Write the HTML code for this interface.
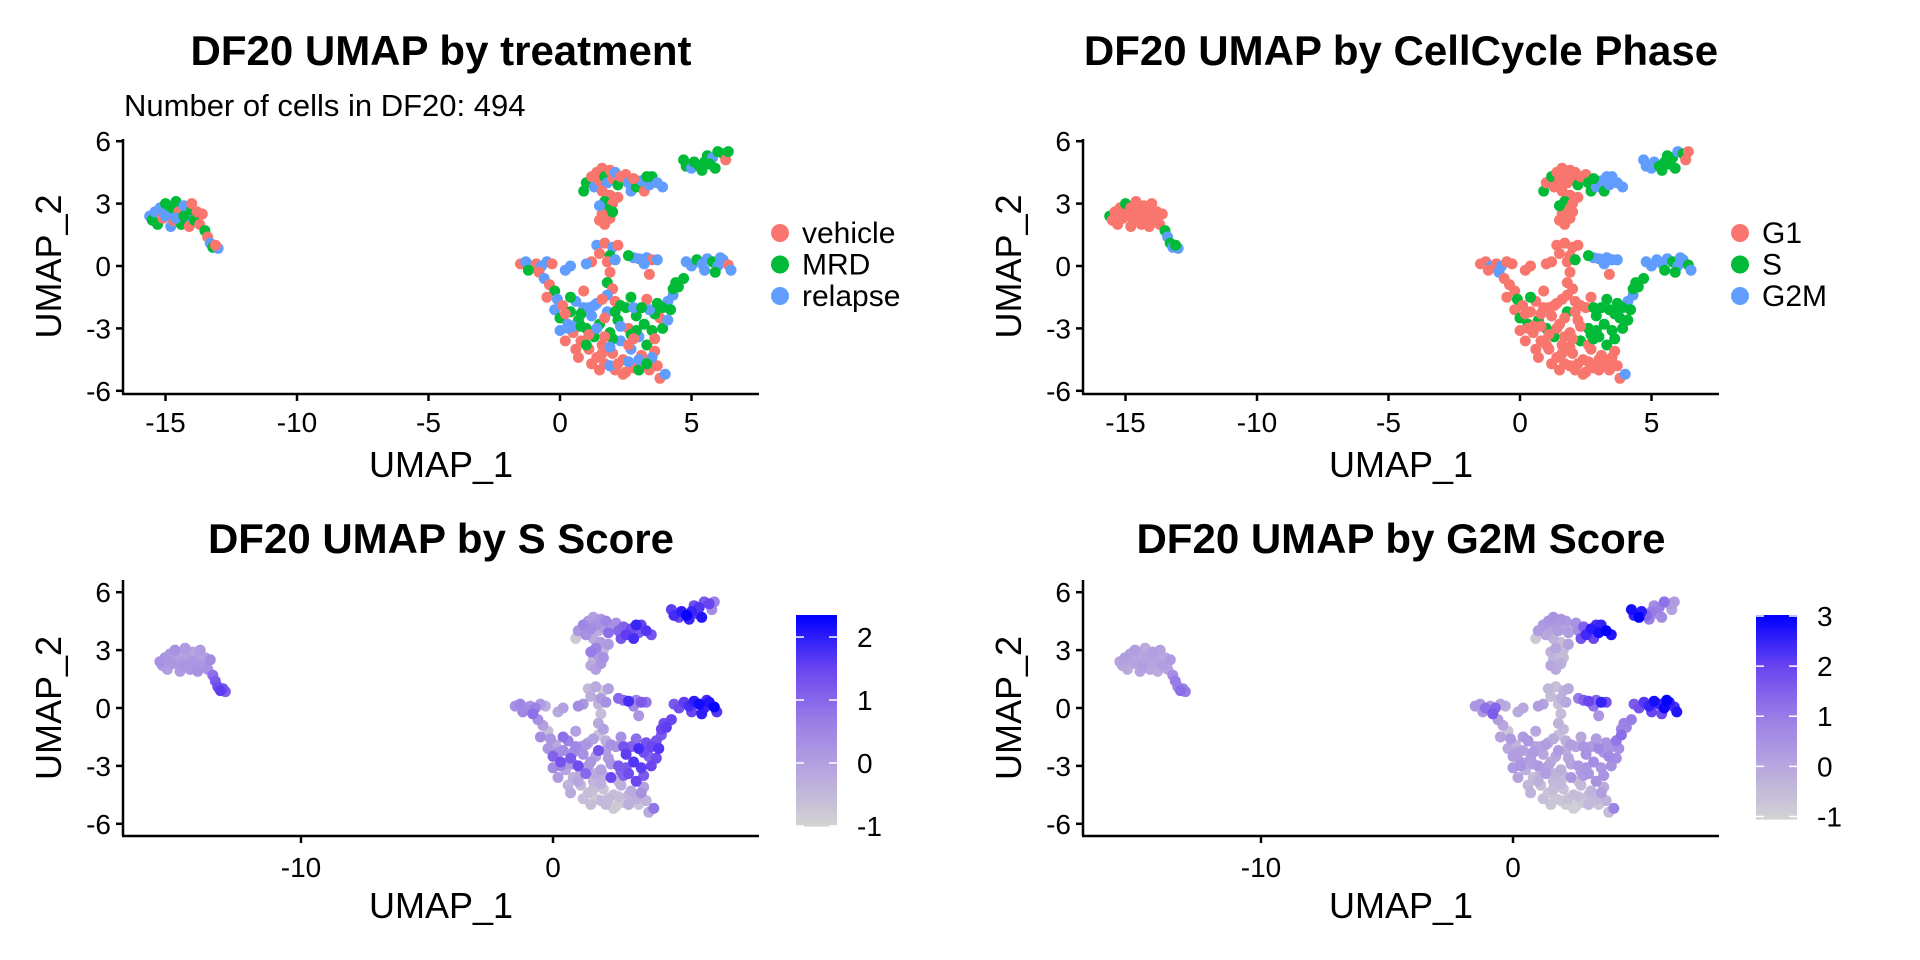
<!DOCTYPE html>
<html><head><meta charset="utf-8"><style>
html,body{margin:0;padding:0;background:#fff;}
svg{display:block;font-family:"Liberation Sans",Arial,sans-serif;}
</style></head><body>
<svg id="fig" xmlns="http://www.w3.org/2000/svg" width="1920" height="960" viewBox="0 0 1920 960"></svg>
<script>
// ---- data: UMAP coordinates per cell (clusters: left, upper head, upper arm, top-right, left arm, stem, bar, right arm, diagonal, bottom, bottom-extra) ----
const umap1 = [
-15.6,-15.5,-15.4,-15.3,-15.2,-15.1,-15.0,-14.9,-14.8,-14.8,-14.7,-14.6,-14.5,-14.4,-14.3,-14.2,-14.1,-14.0,-14.0,-13.9,-13.8,-13.7,-13.6,-13.5,-13.4,-13.3,-13.2,-13.0,-13.1,-14.6,-15.0,-14.3,
0.9,1.0,1.2,1.3,1.4,1.5,1.6,1.7,1.8,1.9,2.0,2.1,2.2,2.3,2.5,2.6,1.6,1.9,1.7,2.0,1.8,1.6,1.9,1.7,1.5,2.0,1.5,2.2,
2.7,2.9,3.1,3.2,3.4,3.5,3.7,3.9,3.3,2.8,
4.7,4.8,5.0,5.1,5.3,5.5,5.6,5.8,5.9,6.0,6.2,6.3,6.4,5.4,5.7,
-1.5,-1.3,-1.1,-0.9,-0.7,-0.5,-0.3,-1.2,-0.8,-0.6,-0.4,-0.2,-0.5,-0.1,0.2,0.4,
1.4,1.7,2.0,2.2,1.5,1.9,1.8,2.1,1.2,1.0,1.9,1.8,2.0,1.8,2.1,
2.8,3.0,3.3,3.5,3.7,3.2,3.4,2.6,
4.8,5.0,5.2,5.4,5.6,5.8,6.0,6.2,6.4,6.5,5.5,5.9,6.1,
4.7,4.5,4.3,4.4,4.1,4.2,3.9,3.8,3.6,
-0.2,0.0,0.1,0.3,0.4,0.5,0.6,0.7,0.8,0.9,1.0,1.1,1.2,1.3,1.4,1.5,1.6,1.7,1.8,1.9,2.0,2.1,2.2,2.3,2.4,2.5,2.6,2.7,2.8,2.9,3.0,3.1,3.2,3.3,3.4,3.5,3.6,3.7,3.8,4.0,3.9,4.1,3.3,2.7,1.4,0.6,1.2,2.5,3.0,1.9,0.2,3.7,
0.2,0.5,0.8,1.1,1.4,1.7,2.0,2.3,2.6,2.9,3.2,3.5,0.4,0.9,1.3,1.6,2.1,2.4,2.8,3.1,3.4,0.0,0.7,1.0,1.5,1.9,2.2,2.7,3.0,3.6,1.1,1.6,2.3,2.8,0.3,0.8,1.7,2.6,3.3,4.3
];
const umap2 = [
2.4,2.2,2.6,2.0,2.8,2.3,3.0,2.5,1.9,2.8,2.2,3.1,2.6,2.0,2.9,2.4,1.9,2.7,3.0,2.2,2.6,2.0,2.5,1.7,1.4,1.1,0.9,0.85,1.0,2.3,2.4,2.4,
3.6,4.0,4.3,3.8,4.5,4.1,4.7,4.3,4.0,4.6,4.2,4.5,3.9,4.3,4.4,4.0,3.6,3.4,3.1,3.0,2.7,2.5,2.3,2.0,2.2,2.6,2.9,3.3,
3.6,3.8,4.1,3.6,3.9,4.3,4.0,3.8,4.3,4.2,
5.1,4.8,4.7,5.0,4.8,5.0,5.3,5.2,4.7,5.5,5.4,5.1,5.5,4.6,4.9,
0.1,0.2,0.0,0.1,0.0,0.2,0.1,-0.2,-0.3,-0.6,-0.9,-1.2,-1.5,-1.6,-0.2,0.0,
1.0,1.1,0.9,1.0,0.6,0.5,0.2,0.3,0.2,0.1,-0.3,-0.8,-1.1,-1.4,-1.7,
0.4,0.35,0.4,0.3,0.3,0.1,-0.4,0.5,
0.2,0.0,0.3,0.1,0.35,0.2,0.0,0.3,0.05,-0.2,-0.2,-0.3,0.4,
-0.6,-1.0,-1.4,-0.8,-1.7,-2.1,-2.0,-2.5,-2.3,
-2.1,-2.5,-1.9,-2.8,-2.2,-3.2,-1.7,-2.6,-3.6,-2.0,-3.0,-4.0,-2.4,-3.4,-4.4,-2.8,-3.8,-4.7,-2.2,-3.2,-4.2,-5.0,-2.6,-3.6,-4.5,-2.0,-3.0,-4.0,-4.9,-2.4,-3.4,-4.3,-2.8,-3.8,-2.1,-3.1,-4.1,-4.8,-5.4,-5.2,-3.0,-2.6,-1.6,-1.5,-1.8,-4.0,-4.7,-5.1,-5.0,-4.8,-3.6,-1.8,
-2.3,-2.9,-2.3,-3.3,-3.0,-2.5,-3.5,-2.9,-3.8,-3.1,-4.6,-4.4,-1.5,-1.2,-1.9,-4.2,-2.2,-5.2,-2.0,-2.0,-5.0,-3.1,-4.4,-3.8,-5.0,-3.9,-4.7,-3.3,-4.5,-3.5,-2.0,-1.6,-1.9,-3.5,-3.0,-2.9,-3.4,-4.6,-4.7,-1.1
];
// treatment: 0 vehicle, 1 MRD, 2 relapse
const treatment = [
2,1,2,1,2,0,1,2,2,1,0,1,0,1,2,2,0,1,0,1,0,0,0,1,0,2,1,2,0,2,2,1,
1,1,0,2,0,0,0,1,2,0,0,2,1,0,0,2,0,0,1,0,1,0,0,0,0,1,2,0,
2,1,2,0,2,1,2,2,1,0,
1,1,2,1,1,1,1,2,1,1,1,0,1,1,1,
0,2,2,0,2,2,0,1,0,2,0,1,0,2,2,2,
2,0,2,0,0,1,0,2,0,2,0,1,0,2,0,
2,2,2,0,2,2,0,1,
2,2,1,2,2,1,2,2,0,2,2,1,2,
1,1,2,1,2,1,1,0,1,
2,1,0,2,1,0,2,1,0,2,1,0,2,1,0,1,0,0,2,1,0,0,1,2,0,1,0,2,0,1,2,0,1,1,2,1,0,0,0,2,1,2,0,1,2,0,0,0,1,2,0,1,
0,2,1,0,2,0,1,2,0,1,0,2,1,0,2,0,1,0,2,1,0,2,0,1,0,2,0,1,2,0,2,0,1,0,2,1,0,2,1,1
];
// phase: 0 G1, 1 S, 2 G2M
const phase = [
1,0,0,0,0,0,1,0,0,0,0,0,0,0,0,0,0,0,0,0,0,0,0,1,2,1,2,2,1,0,0,0,
1,0,1,0,0,0,0,0,0,0,0,0,1,0,0,1,0,0,1,0,0,0,0,0,0,0,1,0,
1,2,2,1,2,2,2,2,2,1,
2,2,2,2,1,1,1,1,1,2,1,0,0,1,1,
0,0,2,0,2,0,0,0,2,0,0,0,0,1,0,0,
0,0,0,0,0,0,0,1,0,0,0,0,0,0,0,
2,2,2,2,2,2,0,1,
2,2,2,2,2,1,2,2,1,2,1,1,2,
1,1,2,1,2,1,1,1,1,
0,1,0,1,0,0,0,1,0,0,1,0,0,1,0,0,0,0,1,0,0,0,0,1,0,0,1,0,0,1,1,0,1,1,1,1,0,0,0,2,1,1,1,0,0,0,0,0,0,0,0,1,
0,0,0,0,0,0,0,0,0,1,0,0,1,0,0,0,0,0,1,1,0,0,0,0,0,0,0,1,0,1,0,0,0,1,0,0,0,0,0,1
];
const sScore = [
0.3,0.1,0.2,0.0,0.1,0.2,0.3,0.0,0.1,-0.1,0.2,0.1,0.0,0.2,-0.1,0.1,0.3,0.0,0.1,0.2,0.0,0.3,0.4,0.9,1.2,1.4,1.6,1.1,1.3,0.1,0.0,0.2,
-0.8,0.2,0.5,0.3,0.1,0.4,0.0,0.3,-0.3,0.2,0.1,0.5,0.9,0.2,0.3,1.0,-0.2,0.0,0.6,-0.4,0.1,-0.5,0.2,0.0,-0.2,0.3,0.7,0.1,
1.3,1.6,1.4,1.8,1.2,1.5,1.7,1.3,1.9,1.1,
1.6,1.8,1.5,2.0,2.3,1.9,1.4,1.7,2.1,1.2,1.5,0.4,0.6,1.9,1.6,
0.3,0.5,0.4,0.2,0.6,0.1,-0.3,0.5,0.9,0.3,0.0,-0.6,0.4,0.2,-0.2,0.0,
-0.5,-0.2,-0.8,0.0,-0.3,0.1,-0.4,0.3,0.2,0.4,-0.6,-0.2,0.0,-0.7,-0.3,
0.9,1.8,0.6,1.2,0.8,0.5,0.2,1.0,
1.2,1.4,1.6,1.8,2.0,2.2,1.9,2.1,2.3,1.7,1.5,2.0,1.8,
1.5,1.6,1.2,1.4,1.3,1.7,1.5,1.1,1.4,
0.2,1.1,-0.2,1.3,0.4,-0.1,0.6,1.2,-0.3,0.5,1.4,-0.5,0.3,1.0,-0.6,0.2,-0.4,-0.8,1.3,0.0,-0.7,-0.5,0.1,1.5,-0.6,0.2,1.2,-0.3,-0.8,1.6,1.4,-0.2,1.7,1.5,1.8,1.6,0.0,-0.4,-0.2,0.8,1.5,1.4,0.9,0.3,-0.2,-0.4,-0.6,-0.9,-0.3,-0.5,0.1,1.3,
0.3,0.1,0.4,-0.2,0.2,0.0,-0.3,0.2,-0.4,1.2,-0.5,0.3,0.9,0.0,0.2,-0.6,0.1,-0.8,1.3,1.1,-0.7,0.4,-0.2,-0.1,-0.6,-0.3,-0.5,1.0,-0.4,1.2,0.2,0.0,0.3,1.1,0.5,0.2,-0.2,-0.6,-0.3,1.5
];
const g2mScore = [
0.1,0.0,0.2,-0.1,0.1,0.0,0.2,-0.2,0.1,0.0,0.2,-0.1,0.1,0.0,0.2,0.1,-0.1,0.0,0.1,0.2,0.0,0.1,0.3,0.6,1.0,0.8,1.3,1.0,0.9,0.0,0.1,0.0,
-0.8,0.2,0.3,0.0,0.4,0.1,0.5,0.3,0.2,0.4,0.0,0.3,0.2,-0.2,0.5,0.6,-0.3,-0.6,0.0,-0.5,-0.7,-0.4,-0.2,-0.1,0.0,-0.5,-0.3,0.1,
1.8,2.4,2.6,2.0,2.8,2.5,3.0,2.7,2.3,1.5,
2.8,2.5,3.0,2.6,1.4,1.0,0.6,0.9,0.7,1.2,0.3,0.1,0.2,1.0,0.5,
0.4,0.3,1.2,0.2,1.4,0.0,-0.2,0.3,1.6,0.2,0.0,-0.7,0.1,0.3,-0.1,0.0,
-0.4,-0.6,-0.3,-0.1,-0.5,-0.2,-0.6,0.0,0.1,0.2,-0.5,-0.3,-0.4,-0.6,-0.2,
1.5,2.0,1.4,2.5,1.8,1.2,0.4,1.0,
1.6,1.8,2.2,2.5,2.8,2.4,2.9,2.6,2.3,2.7,2.0,1.9,3.0,
1.0,0.8,1.3,0.9,1.1,0.6,0.5,0.7,0.4,
0.0,0.2,-0.3,0.3,0.1,-0.2,0.4,0.2,-0.5,0.1,0.3,-0.6,0.0,0.2,-0.7,-0.1,-0.4,-0.8,0.3,-0.2,-0.6,-0.9,0.0,0.4,-0.5,0.1,0.3,-0.4,-0.8,0.5,0.4,-0.3,0.6,0.5,0.7,0.4,-0.1,-0.3,-0.5,0.9,0.5,0.6,0.2,0.0,-0.2,-0.4,-0.6,-0.9,-0.4,-0.7,0.1,0.4,
0.2,0.0,0.3,-0.3,0.1,0.0,-0.4,0.1,-0.5,0.4,-0.6,0.2,0.3,0.0,0.2,-0.5,-0.1,-0.9,0.4,0.3,-0.7,0.3,-0.3,-0.2,-0.7,-0.4,-0.6,0.2,-0.5,0.5,0.1,-0.1,0.2,0.3,0.4,0.2,-0.3,-0.6,-0.4,0.8
];
const treatmentLabels = ["vehicle","MRD","relapse"];
const phaseLabels = ["G1","S","G2M"];
const groupColors = ["#F8766D","#00BA38","#619CFF"];
const topXTicks = [-15,-10,-5,0,5];
const bottomXTicks = [-10,0];
const yTicks = [-6,-3,0,3,6];
const sTicks = [-1,0,1,2];
const g2mTicks = [-1,0,1,2,3];
const sDomain = [-1.0,2.35];
const g2mDomain = [-1.05,3.02];

const NS = "http://www.w3.org/2000/svg";
const svg = document.getElementById('fig');
function mk(tag, attrs, parent){
  const e = document.createElementNS(NS, tag);
  for (const k in attrs) e.setAttribute(k, attrs[k]);
  (parent||svg).appendChild(e);
  return e;
}
function txt(str, attrs, parent){ const t = mk('text', attrs, parent); t.textContent = str; return t; }

const stops = [[0,[211,211,211]],[0.25,[184,168,222]],[0.5,[154,126,230]],[0.75,[106,69,240]],[1,[0,0,255]]];
function ramp(f){
  f = Math.max(0, Math.min(1, f));
  for (let i=1;i<stops.length;i++){
    if (f <= stops[i][0]){
      const a=stops[i-1], b=stops[i], u=(f-a[0])/(b[0]-a[0]);
      const c=a[1].map((v,j)=>Math.round(v+(b[1][j]-v)*u));
      return `rgb(${c[0]},${c[1]},${c[2]})`;
    }
  }
  return 'rgb(0,0,255)';
}

function panel(cfg){
  const g = mk('g', {});
  
  
  const ox = cfg.ox;
  const sx = v => ox + cfg.x0 + v*cfg.kx;
  const sy = v => cfg.y0 - v*cfg.ky;
  const t = txt(cfg.title, {x: ox+441, y: cfg.titleY, 'text-anchor':'middle', 'font-size':42, 'font-weight':'bold', fill:'#000'}, g);
  
  
  if (cfg.subtitle){
    const st = txt(cfg.subtitle, {x: ox+124, y: 116, 'font-size':31, fill:'#000'}, g);
    
    
  }
  const pts = mk('g', {}, g);
  
  
  let order = umap1.map((_,i)=>i);
  if (cfg.score) order.sort((a,b)=>cfg.score[a]-cfg.score[b]);
  order.forEach(i=>{
    let col;
    if (cfg.groups) col = groupColors[cfg.groups[i]];
    else col = ramp((cfg.score[i]-cfg.domain[0])/(cfg.domain[1]-cfg.domain[0]));
    const c = mk('circle', {cx: sx(umap1[i]).toFixed(1), cy: sy(umap2[i]).toFixed(1), r: 5.5, fill: col}, pts);
    
    
  });
  const yl = mk('line', {x1: ox+123, y1: cfg.axTop, x2: ox+123, y2: cfg.axBot, stroke:'#000', 'stroke-width':2.5}, g);
  
  
  const xl = mk('line', {x1: ox+122, y1: cfg.axBot, x2: ox+759, y2: cfg.axBot, stroke:'#000', 'stroke-width':2.5}, g);
  
  
  yTicks.forEach(v=>{
    const y = sy(v);
    mk('line', {x1: ox+116, y1: y, x2: ox+123, y2: y, stroke:'#000', 'stroke-width':2.5}, g);
    const l = txt(String(v), {x: ox+111, y: y+10, 'text-anchor':'end', 'font-size':28, fill:'#000'}, g);
    
    
  });
  cfg.xticks.forEach(v=>{
    const x = sx(v);
    mk('line', {x1: x, y1: cfg.axBot, x2: x, y2: cfg.axBot+7, stroke:'#000', 'stroke-width':2.5}, g);
    const l = txt(String(v), {x: x, y: cfg.xTickY, 'text-anchor':'middle', 'font-size':28, fill:'#000'}, g);
    
    
  });
  const xt = txt('UMAP_1', {x: ox+441, y: cfg.xTitleY, 'text-anchor':'middle', 'font-size':36, fill:'#000'}, g);
  
  
  const cy = (cfg.axTop+cfg.axBot)/2;
  const yt = txt('UMAP_2', {x: 0, y: 0, 'text-anchor':'middle', 'font-size':36, fill:'#000', transform:`translate(${ox+61},${cy}) rotate(-90)`}, g);
  
  
  if (cfg.labels){
    const lg = mk('g', {}, g);
    
    
    cfg.labels.forEach((lab,k)=>{
      const y = 233 + k*31.5;
      const d = mk('circle', {cx: ox+780, cy: y, r: 9, fill: groupColors[k]}, lg);
      
      
      const tl = txt(lab, {x: ox+802, y: y+10, 'font-size':30, fill:'#000'}, lg);
      
      
    });
  }
  if (cfg.domain){
    const cb = mk('g', {}, g);
    
    
    const top = cfg.cbTop, bot = cfg.cbBot;
    const vy = v => bot - (v-cfg.domain[0])/(cfg.domain[1]-cfg.domain[0])*(bot-top);
    const n = 60;
    for (let i=0;i<n;i++){
      const f0=i/n, f1=(i+1)/n;
      mk('rect', {x: ox+796, y: (bot-(bot-top)*f1).toFixed(2), width: 41, height: ((bot-top)/n+0.6).toFixed(2), fill: ramp((f0+f1)/2)}, cb);
    }
    cfg.cbTicks.forEach(v=>{
      const y = vy(v);
      mk('line', {x1: ox+796, y1: y, x2: ox+804, y2: y, stroke:'#fff', 'stroke-width':1.5}, cb);
      mk('line', {x1: ox+829, y1: y, x2: ox+837, y2: y, stroke:'#fff', 'stroke-width':1.5}, cb);
      const l = txt(String(v), {x: ox+857, y: y+10, 'font-size':28, fill:'#000'}, cb);
      
      
    });
  }
}

panel({name:'panel-treatment', ox:0, x0:560, kx:26.3, y0:266, ky:20.8, axTop:139, axBot:394, xticks:topXTicks, xTickY:432, xTitleY:477, titleY:65, title:'DF20 UMAP by treatment', subtitle:'Number of cells in DF20: 494', groups:treatment, labels:treatmentLabels});
panel({name:'panel-cellcycle-phase', ox:960, x0:560, kx:26.3, y0:266, ky:20.8, axTop:139, axBot:394, xticks:topXTicks, xTickY:432, xTitleY:477, titleY:65, title:'DF20 UMAP by CellCycle Phase', groups:phase, labels:phaseLabels});
panel({name:'panel-s-score', ox:0, x0:553, kx:25.2, y0:708, ky:19.3, axTop:580, axBot:836, xticks:bottomXTicks, xTickY:877, xTitleY:918, titleY:553, title:'DF20 UMAP by S Score', score:sScore, domain:sDomain, cbTop:615, cbBot:826, cbTicks:sTicks});
panel({name:'panel-g2m-score', ox:960, x0:553, kx:25.2, y0:708, ky:19.3, axTop:580, axBot:836, xticks:bottomXTicks, xTickY:877, xTitleY:918, titleY:553, title:'DF20 UMAP by G2M Score', score:g2mScore, domain:g2mDomain, cbTop:615, cbBot:819, cbTicks:g2mTicks});
</script>
</body></html>
